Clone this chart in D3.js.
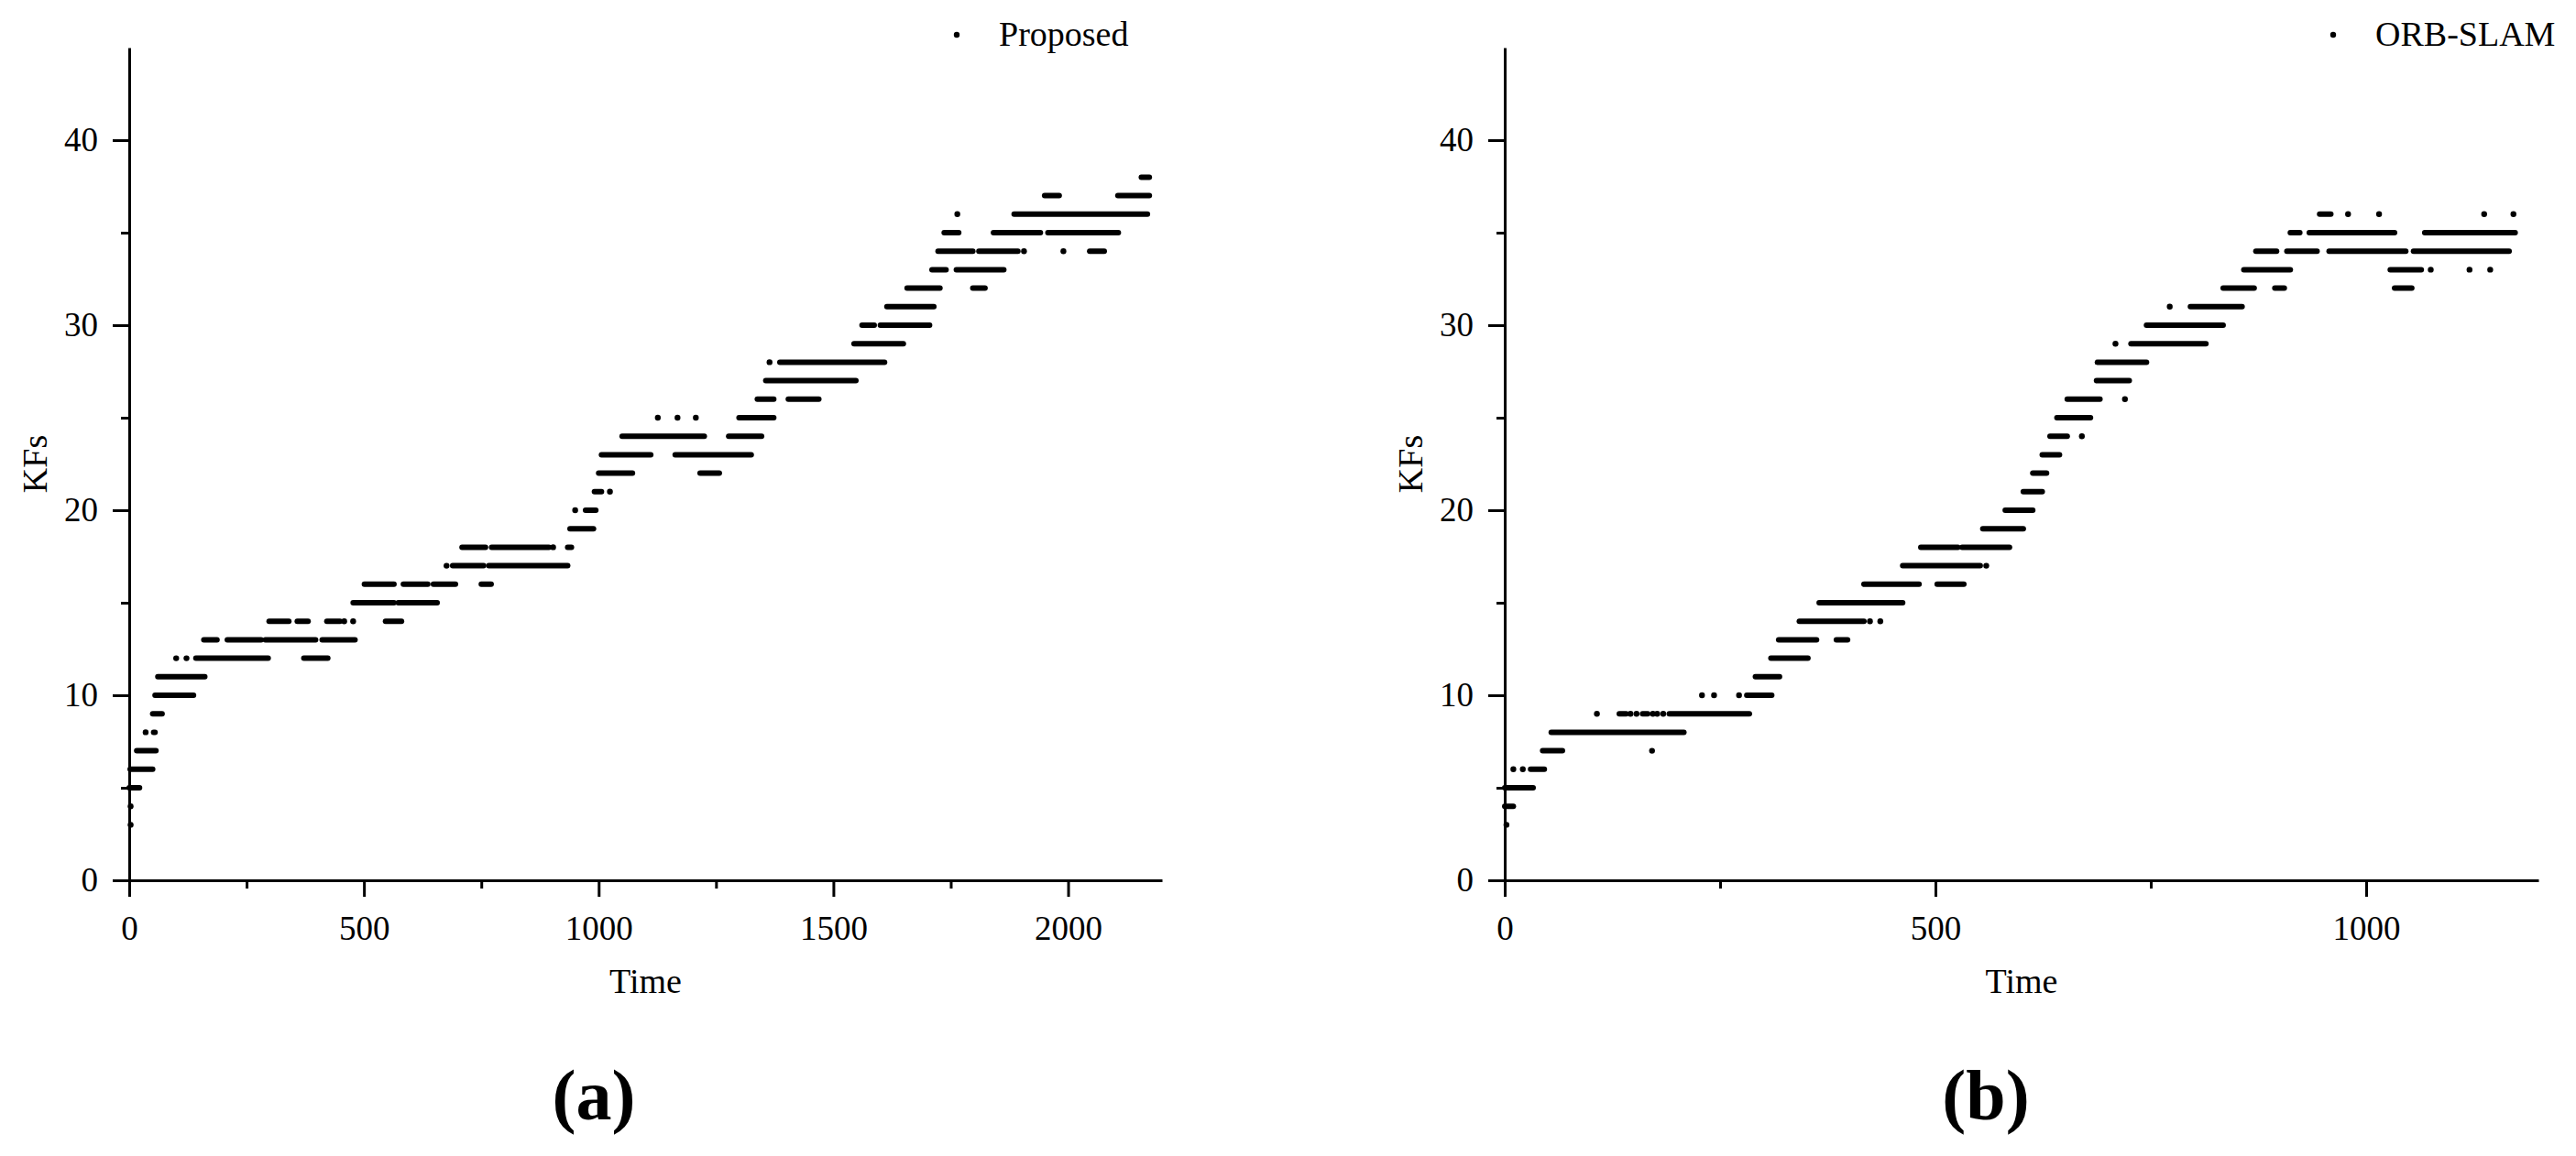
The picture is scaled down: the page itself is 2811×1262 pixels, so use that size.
<!DOCTYPE html>
<html>
<head>
<meta charset="utf-8">
<script src="https://cdn.jsdelivr.net/npm/d3@7"></script>
<style>
  body { margin: 0; background: #fff; }
  text { font-family: "Liberation Serif", "Times New Roman", serif; fill: #000; }
</style>
</head>
<body>
<svg id="viz"></svg>
<script>
var width = 2811;
var height = 1262;

// tick values
var yTicks = [0, 10, 20, 30, 40];
var yMinor = [5, 15, 25, 35];
var xTicksA = [0, 500, 1000, 1500, 2000];
var xMinorA = [250, 750, 1250, 1750];
var xTicksB = [0, 500, 1000];
var xMinorB = [250, 750];

// runs of samples: [KFs, first time, last time]
var proposedRuns = [
    [3, 3, 3], [4, 3, 3], [5, 0, 22], [6, 2, 50], [7, 16, 57],
    [8, 35, 35], [8, 52, 55], [9, 50, 70], [10, 55, 137], [11, 61, 161],
    [12, 100, 100], [12, 122, 122], [12, 142, 296], [12, 372, 423],
    [13, 159, 187], [13, 209, 281], [13, 290, 397], [13, 411, 481],
    [14, 298, 340], [14, 358, 381], [14, 421, 449], [14, 458, 458], [14, 477, 477], [14, 546, 580],
    [15, 477, 564], [15, 573, 656],
    [16, 501, 564], [16, 584, 636], [16, 648, 695], [16, 750, 771],
    [17, 676, 676], [17, 689, 755], [17, 766, 934],
    [18, 709, 759], [18, 772, 894], [18, 903, 903], [18, 934, 942],
    [19, 939, 989], [20, 950, 950], [20, 972, 994],
    [21, 991, 1006], [21, 1024, 1024],
    [22, 1000, 1072], [22, 1216, 1257],
    [23, 1006, 1111], [23, 1163, 1325],
    [24, 1050, 1225], [24, 1277, 1347],
    [25, 1126, 1126], [25, 1168, 1168], [25, 1207, 1207], [25, 1299, 1373],
    [26, 1338, 1373], [26, 1404, 1469],
    [27, 1356, 1548], [28, 1364, 1364], [28, 1386, 1609],
    [29, 1544, 1649], [30, 1561, 1587], [30, 1600, 1705], [31, 1614, 1714],
    [32, 1657, 1727], [32, 1797, 1823],
    [33, 1710, 1740], [33, 1762, 1863],
    [34, 1723, 1797], [34, 1810, 1893], [34, 1906, 1906], [34, 1990, 1990], [34, 2046, 2077],
    [35, 1736, 1767], [35, 1841, 1941], [35, 1957, 2107],
    [36, 1764, 1764], [36, 1885, 2169],
    [37, 1950, 1981], [37, 2106, 2173],
    [38, 2156, 2173]
];

var orbRuns = [
    [3, 2, 2], [4, 0, 10], [5, 0, 33],
    [6, 10, 10], [6, 21, 21], [6, 30, 46],
    [7, 44, 67], [7, 171, 171], [8, 54, 208],
    [9, 107, 107], [9, 133, 141], [9, 146, 146], [9, 153, 153], [9, 160, 166], [9, 172, 172],
    [9, 177, 177], [9, 184, 184], [9, 191, 284],
    [10, 229, 229], [10, 243, 243], [10, 272, 272], [10, 281, 310],
    [11, 291, 319], [12, 309, 352],
    [13, 318, 362], [13, 385, 398],
    [14, 342, 417], [14, 424, 424], [14, 436, 436],
    [15, 365, 462], [16, 417, 481], [16, 502, 533],
    [17, 462, 552], [17, 559, 559],
    [18, 483, 526], [18, 531, 586],
    [19, 555, 602], [20, 581, 613], [21, 602, 624], [22, 613, 629], [23, 624, 644],
    [24, 633, 653], [24, 670, 670], [25, 641, 680],
    [26, 653, 691], [26, 720, 720], [27, 687, 725], [28, 688, 745],
    [29, 709, 709], [29, 727, 814], [30, 745, 834],
    [31, 772, 772], [31, 796, 856],
    [32, 834, 870], [32, 894, 905], [32, 1033, 1053],
    [33, 858, 912], [33, 1028, 1064], [33, 1075, 1075], [33, 1120, 1120], [33, 1144, 1144],
    [34, 872, 896], [34, 908, 943], [34, 957, 1046], [34, 1055, 1166],
    [35, 912, 923], [35, 934, 1033], [35, 1068, 1173],
    [36, 946, 959], [36, 979, 979], [36, 1015, 1015], [36, 1137, 1137], [36, 1171, 1171]
];

var svg = d3.select("#viz").attr("width", width).attr("height", height);

var y = d3.scaleLinear().domain([0, 45]).range([961, 52]);

function drawPanel(p) {
    var x = d3.scaleLinear().domain(p.domain).range(p.range);
    var g = svg.append("g");

    // data
    var marks = g.append("g");
    marks.selectAll("line")
        .data(p.runs.filter(function(d) { return d[2] > d[1]; }))
        .join("line")
        .attr("x1", function(d) { return x(d[1]); })
        .attr("x2", function(d) { return x(d[2]); })
        .attr("y1", function(d) { return y(d[0]); })
        .attr("y2", function(d) { return y(d[0]); })
        .attr("stroke", "#000")
        .attr("stroke-width", 6)
        .attr("stroke-linecap", "round");
    marks.selectAll("circle")
        .data(p.runs.filter(function(d) { return d[2] === d[1]; }))
        .join("circle")
        .attr("cx", function(d) { return x(d[1]); })
        .attr("cy", function(d) { return y(d[0]); })
        .attr("r", 3.2)
        .attr("fill", "#000");

    // axes
    g.append("g").attr("transform", "translate(0," + y(0) + ")")
        .call(d3.axisBottom(x).tickValues(p.xTicks).tickSize(18).tickSizeOuter(0)
            .tickPadding(21).tickFormat(d3.format("d")));
    g.append("g").attr("transform", "translate(0," + y(0) + ")")
        .call(d3.axisBottom(x).tickValues(p.xMinor).tickSize(9).tickFormat(""))
        .select(".domain").remove();

    g.append("g").attr("transform", "translate(" + p.range[0] + ",0)")
        .call(d3.axisLeft(y).tickValues(yTicks).tickSize(18).tickSizeOuter(0).tickPadding(16));
    g.append("g").attr("transform", "translate(" + p.range[0] + ",0)")
        .call(d3.axisLeft(y).tickValues(yMinor).tickSize(9).tickFormat(""))
        .select(".domain").remove();

    g.selectAll(".domain, .tick line").attr("stroke", "#000").attr("stroke-width", 3);
    g.selectAll(".tick text").attr("font-size", 37).attr("font-family", null).attr("fill", "#000");

    // axis titles
    g.append("text")
        .attr("x", (p.range[0] + p.range[1]) / 2)
        .attr("y", 1084)
        .attr("text-anchor", "middle")
        .attr("font-size", 38)
        .text("Time");
    g.append("text")
        .attr("transform", "rotate(-90)")
        .attr("x", -(y(0) + y(45)) / 2)
        .attr("y", p.range[0] - 90)
        .attr("text-anchor", "middle")
        .attr("font-size", 38)
        .text("KFs");

    // legend
    g.append("circle").attr("cx", p.legendX).attr("cy", 38).attr("r", 3.2).attr("fill", "#000");
    g.append("text")
        .attr("x", p.legendX + 46)
        .attr("y", 50)
        .attr("font-size", 38)
        .text(p.name);

    // panel tag
    g.append("text")
        .attr("x", p.tagX)
        .attr("y", 1222)
        .attr("text-anchor", "middle")
        .attr("font-size", 78)
        .attr("font-weight", "bold")
        .text(p.tag);
}

drawPanel({
    runs: proposedRuns, domain: [0, 2200], range: [141, 1268],
    xTicks: xTicksA, xMinor: xMinorA,
    name: "Proposed", legendX: 1044, tag: "(a)", tagX: 648
});
drawPanel({
    runs: orbRuns, domain: [0, 1200], range: [1642, 2770],
    xTicks: xTicksB, xMinor: xMinorB,
    name: "ORB-SLAM", legendX: 2546, tag: "(b)", tagX: 2167
});
</script>
</body>
</html>
